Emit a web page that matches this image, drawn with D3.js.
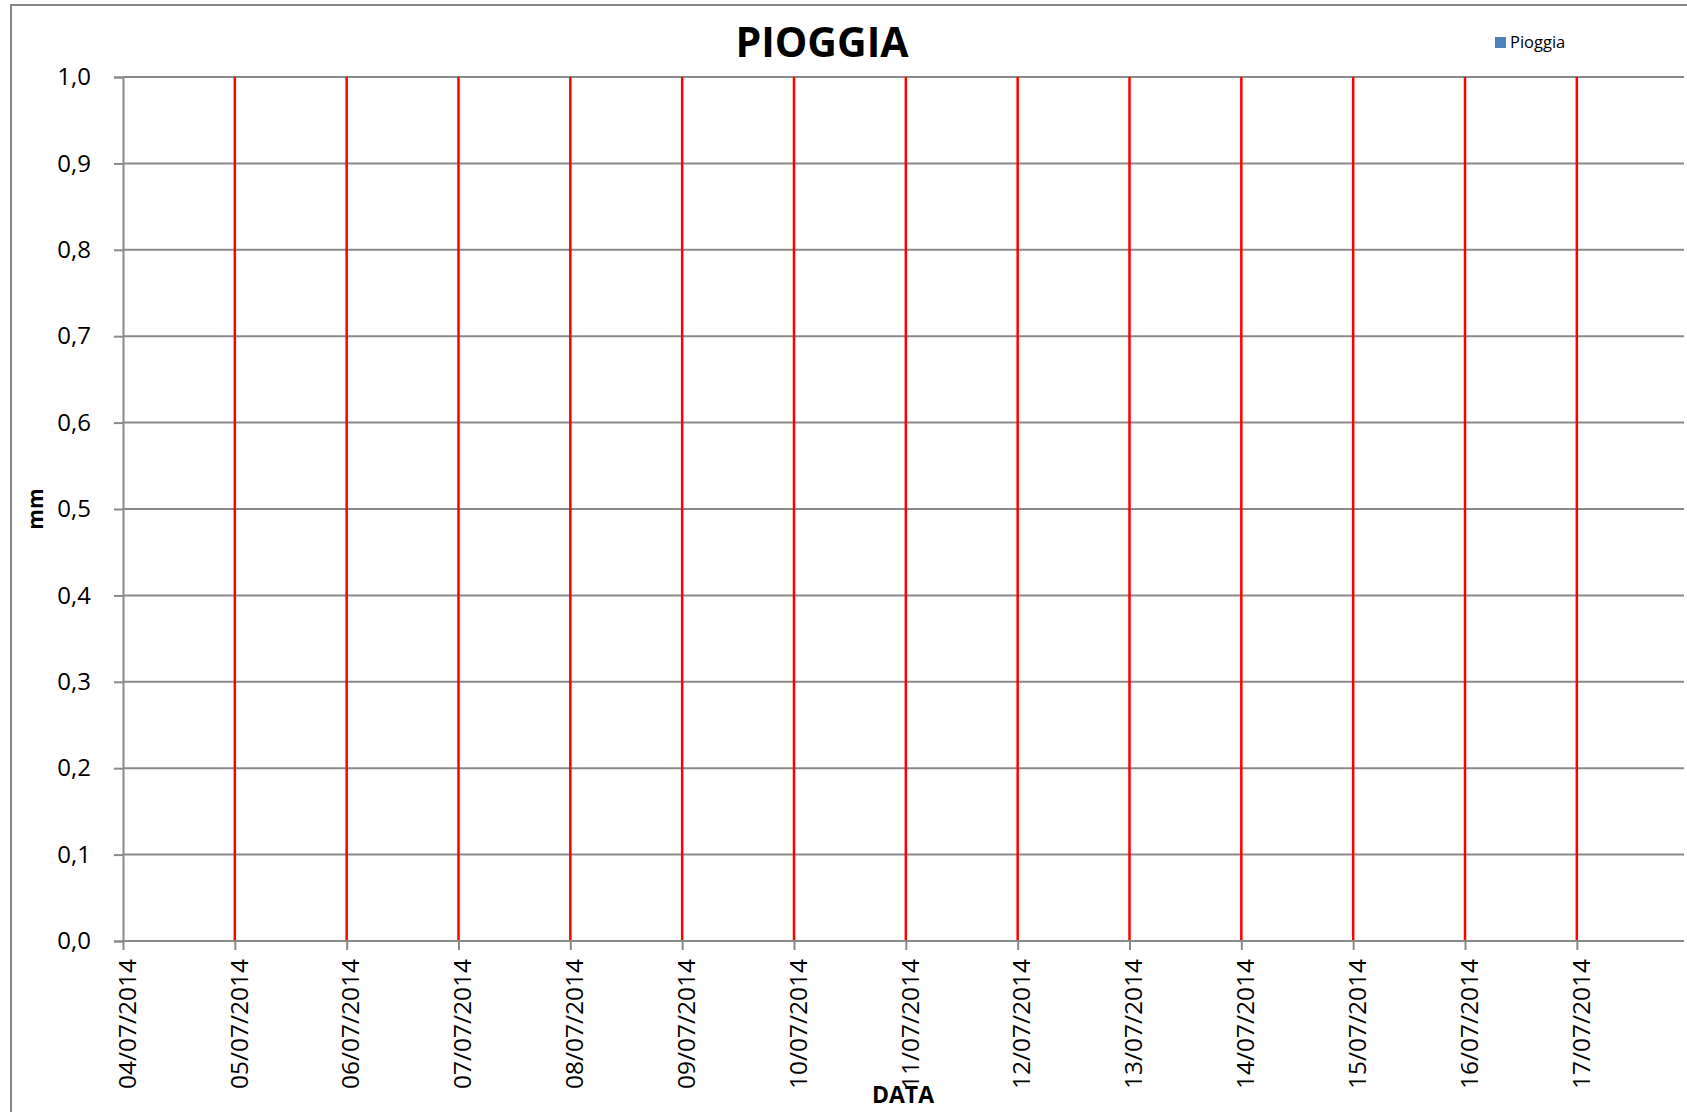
<!DOCTYPE html>
<html>
<head>
<meta charset="utf-8">
<script src="https://cdn.jsdelivr.net/npm/d3@7"></script>
<style>
  html, body { margin: 0; padding: 0; background: #fff; }
  svg { display: block; }
  text { font-family: "Open Sans", "Lato", sans-serif; fill: #000; }
</style>
</head>
<body>
<svg id="chart" width="1687" height="1112"></svg>
<script>
// ---- data ----
const dates = ["04/07/2014","05/07/2014","06/07/2014","07/07/2014","08/07/2014","09/07/2014","10/07/2014",
               "11/07/2014","12/07/2014","13/07/2014","14/07/2014","15/07/2014","16/07/2014","17/07/2014"];
const pioggia = [0,0,0,0,0,0,0,0,0,0,0,0,0,0];
const yTicks = [0,0.1,0.2,0.3,0.4,0.5,0.6,0.7,0.8,0.9,1.0];
const title = "PIOGGIA";
const seriesName = "Pioggia";
const yTitle = "mm";
const xTitle = "DATA";

// ---- layout ----
const svg = d3.select("#chart");
const W = 1687, H = 1112;
const plot = { left: 123, top: 77, right: 1684, bottom: 941 };
const parse = d3.timeParse("%d/%m/%Y");
const fmt = d3.timeFormat("%d/%m/%Y");
const dateObjs = dates.map(parse);
const start = dateObjs[0];
const end = d3.timeHour.offset(dateObjs[dateObjs.length - 1], 23);

const x = d3.scaleTime().domain([start, end]).range([plot.left, plot.right]);
const y = d3.scaleLinear().domain([0, 1]).range([plot.bottom, plot.top]);

// outer chart border
svg.append("rect")
  .attr("x", 11).attr("y", 5)
  .attr("width", W + 20).attr("height", H + 20)
  .attr("fill", "#fff").attr("stroke", "#868686").attr("stroke-width", 2);

// horizontal gridlines
svg.append("g").selectAll("line").data(yTicks).join("line")
  .attr("x1", plot.left).attr("x2", plot.right)
  .attr("y1", d => y(d)).attr("y2", d => y(d))
  .attr("stroke", "#8a8a8a").attr("stroke-width", 2);

// red vertical gridlines at each day (except the first, which is the axis)
svg.append("g").selectAll("line").data(dateObjs.slice(1)).join("line")
  .attr("x1", d => x(d)).attr("x2", d => x(d))
  .attr("y1", plot.top).attr("y2", plot.bottom)
  .attr("stroke", "#ff0000").attr("stroke-width", 2.5);

// bars (all zero)
svg.append("g").selectAll("rect").data(dates).join("rect")
  .attr("x", (d, i) => x(dateObjs[i]) + 20)
  .attr("width", 70)
  .attr("y", (d, i) => y(pioggia[i]))
  .attr("height", (d, i) => y(0) - y(pioggia[i]))
  .attr("fill", "#4F81BD");

// Y axis
const yAxis = svg.append("g")
  .attr("transform", `translate(${plot.left},0)`)
  .call(d3.axisLeft(y).tickValues(yTicks).tickSize(9).tickPadding(23)
    .tickFormat(d => d3.format(".1f")(d).replace(".", ",")));
yAxis.select(".domain").attr("stroke", "#8a8a8a").attr("stroke-width", 2);
yAxis.selectAll(".tick line").attr("stroke", "#8a8a8a").attr("stroke-width", 2);
yAxis.selectAll(".tick text").attr("font-size", 24).attr("font-family", "Open Sans, Lato, sans-serif").attr("fill", "#000");

// X axis
const xAxis = svg.append("g")
  .attr("transform", `translate(0,${plot.bottom})`)
  .call(d3.axisBottom(x).tickValues(dateObjs).tickFormat(fmt).tickSize(9).tickSizeOuter(0));
xAxis.select(".domain").attr("stroke", "#8a8a8a").attr("stroke-width", 2)
  .attr("d", `M${plot.left},0H${plot.right}`);
xAxis.selectAll(".tick line").attr("stroke", "#8a8a8a").attr("stroke-width", 2);
xAxis.selectAll(".tick text")
  .attr("font-size", 24.5).attr("font-family", "Open Sans, Lato, sans-serif").attr("fill", "#000")
  .attr("text-anchor", "end")
  .attr("transform", "rotate(-90)")
  .attr("x", -18).attr("y", 0).attr("dy", "0.5em");

// title
svg.append("text").attr("x", 822).attr("y", 57)
  .attr("text-anchor", "middle").attr("font-size", 41).attr("font-weight", "bold")
  .text(title);

// legend
svg.append("rect").attr("x", 1495).attr("y", 37).attr("width", 11).attr("height", 11).attr("fill", "#4F81BD");
svg.append("text").attr("x", 1510).attr("y", 48).attr("font-size", 16.5).text(seriesName);

// axis titles
svg.append("text")
  .attr("transform", "translate(43,509) rotate(-90)")
  .attr("text-anchor", "middle").attr("font-size", 21).attr("font-weight", "bold")
  .text(yTitle);
svg.append("text").attr("x", 903).attr("y", 1103)
  .attr("text-anchor", "middle").attr("font-size", 23).attr("font-weight", "bold")
  .text(xTitle);
</script>
</body>
</html>
